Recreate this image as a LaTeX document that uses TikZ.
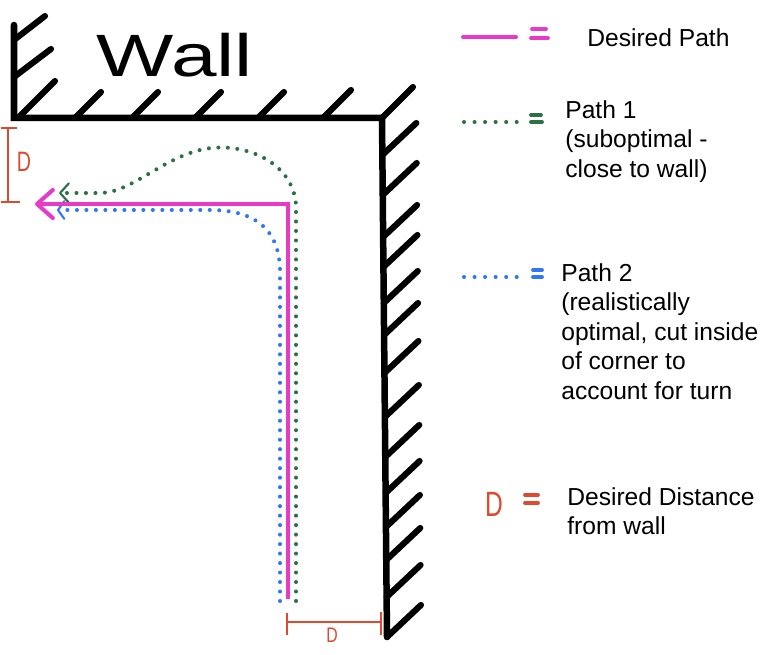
\documentclass[tikz,border=0pt]{standalone}
\usepackage{fontspec}
\setmainfont{Liberation Sans}
\usepackage{tikz}
\usetikzlibrary{arrows.meta}
\definecolor{wpink}{RGB}{232,58,200}
\definecolor{wgreen}{RGB}{45,112,68}
\definecolor{wblue}{RGB}{48,118,245}
\definecolor{wred}{RGB}{222,74,48}

\begin{document}
\begin{tikzpicture}[
  x=0.02cm, y=-0.02cm,
  wall/.style={line width=3.7pt, line cap=round, line join=miter},
  hatch/.style={line width=3.5pt, line cap=round},
  despath/.style={wpink, line width=2.3pt, line join=miter},
  dotpath/.style={line width=2.3pt, line cap=round, dash pattern=on 0pt off 5.4pt},
  pathone/.style={dotpath, wgreen},
  pathtwo/.style={dotpath, wblue},
  eqbar/.style={line width=2.2pt, line cap=round},
  dim/.style={wred, line width=1.3pt},
  dimtxt/.style={text=wred, inner sep=0pt},
  legtxt/.style={font=\fontsize{14}{16.8}\selectfont, align=left,
                 anchor=north west, inner sep=0pt}
]
\useasboundingbox (0,0) rectangle (768,655);

% Walls
\draw[wall] (14,25) -- (14,118) -- (382,118) -- (387,637);
\draw[hatch] (14,40) -- ++(31,-24);
\draw[hatch] (14,77) -- ++(37,-28);
\foreach \x/\l in {18/37,75/26,132/26,195/26,258/26,323/28,382/31}
  \draw[hatch] (\x,118) -- ++(\l,-\l);
\foreach \y in {155,195,237,267,303,335,373,417,457,493,527,560,597,637}
  \draw[hatch] ({382+(\y-118)/104},\y) -- ++(34,-32);
\node[font=\fontsize{34}{34}\selectfont, xscale=1.37] (wall_txt) at (175,55) {Wall};

% Paths
\coordinate (des_start) at (288,599);
\coordinate (des_turn)  at (288,204);
\coordinate (des_tip)   at (35,204);
\coordinate (p1_start)  at (296,601);
\coordinate (p1_turn)   at (296,205);
\coordinate (p1_top)    at (200,150);
\coordinate (p1_tip)    at (59,193);
\coordinate (p2_start)  at (280,601);
\coordinate (p2_turn)   at (280,268);
\coordinate (p2_tip)    at (57,210);

\draw[pathone, -{Straight Barb[length=5pt,width=11pt,line width=1.2pt,round]}]
  (p1_start) -- (p1_turn) .. controls (293,160) and (240,140) .. (p1_top)
  .. controls (160,160) and (130,193) .. (100,193) -- (p1_tip);
\draw[pathtwo, -{Straight Barb[length=3.5pt,width=10pt,line width=1.2pt,round]}]
  (p2_start) -- (p2_turn) .. controls (278,225) and (250,210) .. (210,210) -- (p2_tip);
\draw[despath, -{Straight Barb[length=9pt,width=16pt,round]}]
  (des_start) -- (des_turn) -- (des_tip);

% Distance marks
\coordinate (dl_top) at (8,128);
\coordinate (dl_bot) at (8,202);
\draw[dim] (dl_top) -- (dl_bot);
\draw[dim] (1,128) -- (17,128) (1,202) -- (20,202);
\node[dimtxt, font=\fontsize{16}{16}\selectfont, xscale=0.7] (dl_txt) at (24,162) {D};
\coordinate (db_left)  at (287,622);
\coordinate (db_right) at (381,622);
\draw[dim] (db_left) -- (db_right);
\draw[dim] (287,613) -- (287,635) (381,612) -- (381,635);
\node[dimtxt, font=\fontsize{12}{12}\selectfont, xscale=0.75] (db_txt) at (332,635) {D};

% Legend
\coordinate (leg_des_a) at (463,37);
\coordinate (leg_des_b) at (516,37);
\draw[despath, line cap=round] (leg_des_a) -- (leg_des_b);
\draw[eqbar, wpink] (532,29) -- (546,29) (531,38) -- (548,38);
\node[legtxt] (des_txt) at (587,28) {Desired Path};

\coordinate (leg_p1_a) at (464,122);
\coordinate (leg_p1_b) at (517,122);
\draw[pathone, dash pattern=on 0pt off 6pt] (leg_p1_a) -- (leg_p1_b);
\draw[eqbar, wgreen] (531,115) -- (541,115) (531,122) -- (542,122);
\node[legtxt] (p1_txt) at (565,100) {Path 1\\(suboptimal -\\close to wall)};

\coordinate (leg_p2_a) at (464,277);
\coordinate (leg_p2_b) at (517,277);
\draw[pathtwo, dash pattern=on 0pt off 6pt] (leg_p2_a) -- (leg_p2_b);
\draw[eqbar, wblue] (533,270) -- (542,270) (533,277) -- (542,277);
\node[legtxt] (p2_txt) at (561,263)
  {Path 2\\(realistically\\optimal, cut inside\\of corner to\\account for turn};

\node[dimtxt, font=\fontsize{20}{20}\selectfont, xscale=0.7] (leg_d) at (494,504) {D};
\draw[eqbar, wred] (525,495) -- (538,495) (525,503) -- (538,503);
\node[legtxt] (dist_txt) at (567,487) {Desired Distance\\from wall};

\end{tikzpicture}
\end{document}
